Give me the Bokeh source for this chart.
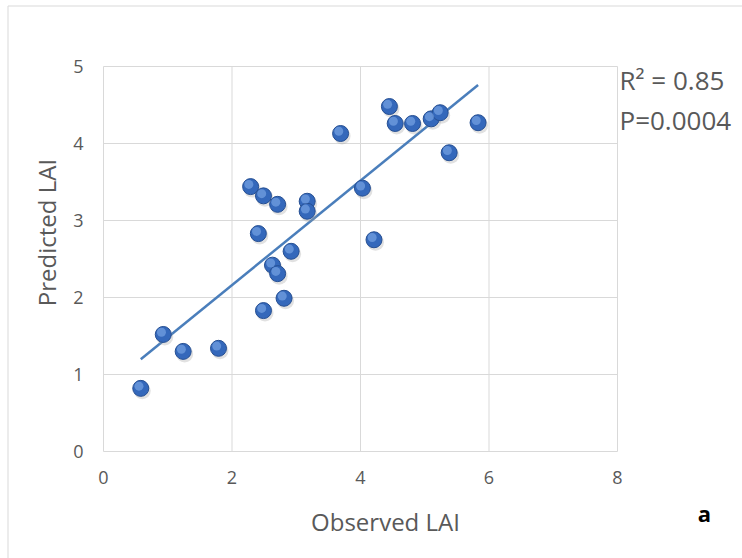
import numpy as np
from bokeh.plotting import figure
from bokeh.models import Range1d, ColumnDataSource
from bokeh.core.properties import value
from bokeh.embed import file_html
from bokeh.resources import INLINE

# Data
observed = [0.58, 0.93, 1.24, 1.79, 2.29, 2.49, 2.71, 2.41, 2.49, 2.63, 2.71, 2.81,
            2.92, 3.17, 3.17, 3.69, 4.03, 4.21, 4.45, 4.54, 4.81, 5.10, 5.24, 5.38, 5.83]
predicted = [0.82, 1.52, 1.30, 1.34, 3.44, 3.32, 3.21, 2.83, 1.83, 2.42, 2.31, 1.99,
             2.60, 3.25, 3.12, 4.13, 3.42, 2.75, 4.48, 4.26, 4.26, 4.32, 4.40, 3.88, 4.27]
x_ticks = [0, 2, 4, 6, 8]
y_ticks = [0, 1, 2, 3, 4, 5]
stats_lines = ["R² = 0.85", "P=0.0004"]
x_label = "Observed LAI"
y_label = "Predicted LAI"
panel_tag = "a"

# ---- layout (pixels) ----
W, H = 742, 558
FX0, FX1 = 103, 617      # frame left / right (px)
FY0, FY1 = 451, 66       # frame bottom / top (px, from top)
SX = (FX1 - FX0) / (x_ticks[-1] - x_ticks[0])
SY = (FY0 - FY1) / (y_ticks[-1] - y_ticks[0])


def dx(px):
    return x_ticks[0] + (px - FX0) / SX


def dy(py):
    return y_ticks[0] + (FY0 - py) / SY


FONT = value("Open Sans")
GREY = "#595959"
GRID = "#d9d9d9"

p = figure(width=W, height=H, output_backend="svg", toolbar_location=None,
           x_range=Range1d(dx(0), dx(W)), y_range=Range1d(dy(H), dy(0)),
           x_axis_location=None, y_axis_location=None, min_border=0)
p.grid.visible = False
p.outline_line_color = None
p.background_fill_color = "white"
p.border_fill_color = "white"

# outer chart border (left / top edges visible in the reference)
p.segment(x0=[dx(7.5), dx(7.5)], y0=[dy(H), dy(5.5)], x1=[dx(7.5), dx(W)], y1=[dy(5.5), dy(5.5)],
          line_color=GRID, line_width=1)

# grid and plot-area box
ymin, ymax = y_ticks[0], y_ticks[-1]
xmin, xmax = x_ticks[0], x_ticks[-1]
p.segment(x0=x_ticks, y0=[ymin] * len(x_ticks), x1=x_ticks, y1=[ymax] * len(x_ticks),
          line_color=GRID, line_width=1)
p.segment(x0=[xmin] * len(y_ticks), y0=y_ticks, x1=[xmax] * len(y_ticks), y1=y_ticks,
          line_color=GRID, line_width=1)

# tick labels
p.text(x=x_ticks, y=[dy(477)] * len(x_ticks), text=[str(t) for t in x_ticks],
       text_font=FONT, text_font_size="18px", text_color=GREY,
       text_align="center", text_baseline="middle")
p.text(x=[dx(78)] * len(y_ticks), y=y_ticks, text=[str(t) for t in y_ticks],
       text_font=FONT, text_font_size="18px", text_color=GREY,
       text_align="center", text_baseline="middle")

# trend line (least squares fit of the data)
xs = np.array(observed)
ys = np.array(predicted)
slope, intercept = np.polyfit(xs, ys, 1)
tx = [xs.min(), xs.max()]
ty = [slope * v + intercept for v in tx]
p.line(tx, ty, line_color="#4a7ebb", line_width=2.5)

# spheres: soft shadow, body, highlight
src = ColumnDataSource(dict(
    x=observed, y=predicted,
    sx=[v + 1.5 / SX for v in observed], sy=[v - 2.5 / SY for v in predicted],
    hx=[v - 1.8 / SX for v in observed], hy=[v + 2.2 / SY for v in predicted],
))
p.scatter("sx", "sy", source=src, size=17, marker="circle",
          fill_color="#9a9a9a", fill_alpha=0.3, line_color=None)
p.scatter("x", "y", source=src, size=16, marker="circle",
          fill_color="#3468bb", line_color="#264f92", line_width=1)
p.scatter("hx", "hy", source=src, size=9, marker="circle",
          fill_color="#729fe0", fill_alpha=0.75, line_color=None)

# axis titles and annotations
p.text(x=[dx(46)], y=[dy(232)], text=[y_label], angle=np.pi / 2,
       text_font=FONT, text_font_size="24px", text_color=GREY,
       text_align="center", text_baseline="middle")
p.text(x=[dx(385)], y=[dy(521)], text=[x_label],
       text_font=FONT, text_font_size="24px", text_color=GREY,
       text_align="center", text_baseline="middle")
p.text(x=[dx(704)], y=[dy(512)], text=[panel_tag],
       text_font=FONT, text_font_size="22px", text_font_style="bold", text_color="black",
       text_align="center", text_baseline="middle")
p.text(x=[dx(619)] * 2, y=[dy(79), dy(119)], text=stats_lines,
       text_font=FONT, text_font_size="26px", text_color=GREY,
       text_align="left", text_baseline="alphabetic")

open("out.html", "w").write(file_html(p, INLINE))
